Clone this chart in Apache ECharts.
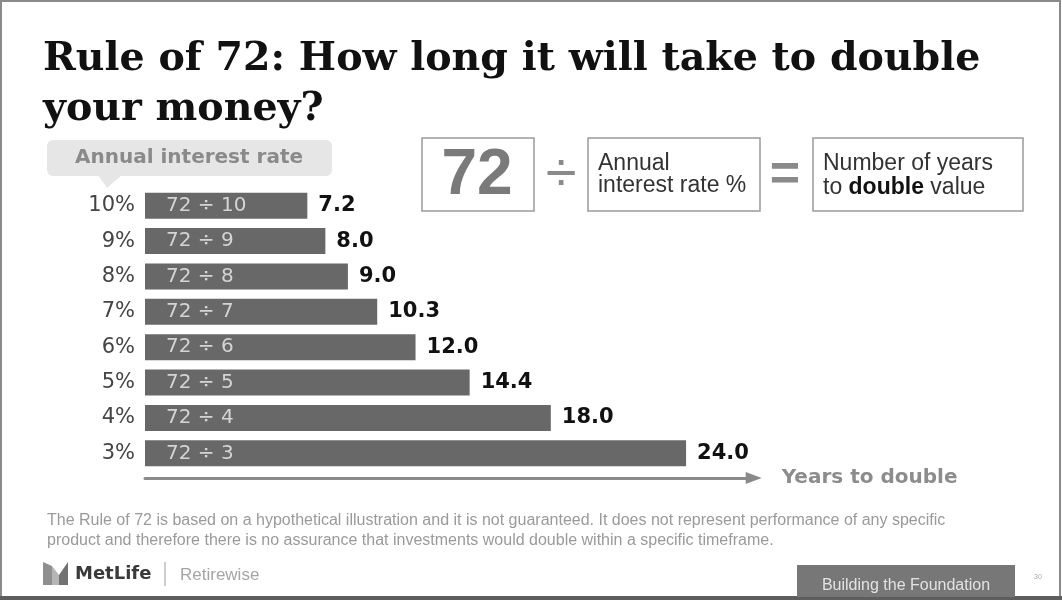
<!DOCTYPE html>
<html>
<head>
<meta charset="utf-8">
<script src="https://cdn.jsdelivr.net/npm/echarts@6/dist/echarts.min.js"></script>
<style>
  html, body { margin: 0; padding: 0; background: #fff; }
  #chart { width: 1062px; height: 600px; }
</style>
</head>
<body>
<div id="chart"></div>
<script>
// Interest rates (%) shown top to bottom, and years to double at each rate (72 / rate)
const rates = [10, 9, 8, 7, 6, 5, 4, 3];
const rateLabels = ['10%', '9%', '8%', '7%', '6%', '5%', '4%', '3%'];
const divisionLabels = ['72 ÷ 10', '72 ÷ 9', '72 ÷ 8', '72 ÷ 7', '72 ÷ 6', '72 ÷ 5', '72 ÷ 4', '72 ÷ 3'];
const yearsToDouble = [7.2, 8.0, 9.0, 10.3, 12.0, 14.4, 18.0, 24.0];

const titleText = 'Rule of 72: How long it will take to double\nyour money?';
const disclaimer = [
  'The Rule of 72 is based on a hypothetical illustration and it is not guaranteed. It does not represent performance of any specific',
  'product and therefore there is no assurance that investments would double within a specific timeframe.'
];

const SANS = 'DejaVu Sans';

// years axis: 0..27 across the plot, arrow at the far end
const X_MAX = 27;
const PX_PER_YEAR = 22.545;

const chart = echarts.init(document.getElementById('chart'), null, { renderer: 'canvas' });

const option = {
  animation: false,
  backgroundColor: '#ffffff',
  title: {
    text: titleText,
    left: 38,
    top: 30,
    textStyle: {
      fontFamily: 'DejaVu Serif',
      fontWeight: 'bold',
      fontSize: 39.5,
      lineHeight: 50,
      color: '#111111'
    }
  },
  grid: { left: 145, top: 188, width: X_MAX * PX_PER_YEAR, height: 283 },
  xAxis: {
    type: 'value',
    min: 0,
    max: X_MAX,
    offset: 7,
    splitLine: { show: false },
    axisTick: { show: false },
    axisLabel: { show: false },
    axisLine: {
      show: true,
      symbol: ['none', 'triangle'],
      symbolSize: [12, 16],
      lineStyle: { color: '#8a8a8a', width: 3, cap: 'round' }
    },
    name: 'Years to double',
    nameLocation: 'end',
    nameGap: 28,
    nameTextStyle: {
      fontFamily: SANS,
      fontWeight: 'bold',
      fontSize: 20,
      color: '#8c8c8c',
      verticalAlign: 'middle'
    }
  },
  yAxis: {
    type: 'category',
    data: rateLabels,
    inverse: true,
    axisLine: { show: false },
    axisTick: { show: false },
    axisLabel: {
      margin: 10,
      fontFamily: SANS,
      fontSize: 21,
      color: '#444444'
    }
  },
  series: [
    {
      type: 'bar',
      data: yearsToDouble,
      barWidth: 26,
      itemStyle: { color: '#686868' },
      label: {
        show: true,
        position: 'insideLeft',
        distance: 21,
        fontFamily: SANS,
        fontSize: 20,
        color: '#d4d4d4',
        formatter: p => divisionLabels[p.dataIndex]
      }
    },
    {
      type: 'bar',
      data: yearsToDouble,
      barWidth: 26,
      barGap: '-100%',
      itemStyle: { color: 'rgba(0,0,0,0)' },
      label: {
        show: true,
        position: 'right',
        distance: 11,
        fontFamily: SANS,
        fontWeight: 'bold',
        fontSize: 21,
        color: '#111111',
        formatter: p => p.value.toFixed(1)
      }
    }
  ],
  graphic: [
    // page frame
    { type: 'rect', shape: { x: 1, y: 1, width: 1059, height: 596 }, style: { fill: 'none', stroke: '#8a8a8a', lineWidth: 2 } },
    { type: 'rect', shape: { x: 0, y: 596, width: 1062, height: 4 }, style: { fill: '#5e5e5e' } },

    // "Annual interest rate" callout
    { type: 'rect', shape: { x: 47, y: 140, width: 285, height: 36, r: 6 }, style: { fill: '#e6e6e6' } },
    { type: 'polygon', shape: { points: [[98, 175], [122, 175], [107, 188]] }, style: { fill: '#e6e6e6' } },
    { type: 'text', x: 189, y: 158, style: { text: 'Annual interest rate', font: 'bold 20px "DejaVu Sans"', fill: '#8a8a8a', align: 'center', verticalAlign: 'middle' } },

    // formula: 72 ÷ rate = years
    { type: 'rect', shape: { x: 422, y: 138, width: 112, height: 73 }, style: { fill: '#fff', stroke: '#9a9a9a', lineWidth: 1.5 } },
    { type: 'text', x: 477, y: 176, style: { text: '72', font: 'bold 64px "Liberation Sans"', fill: '#7a7a7a', align: 'center', verticalAlign: 'middle' } },
    { type: 'text', x: 561, y: 176, style: { text: '÷', font: '56px "Liberation Sans"', fill: '#8a8a8a', align: 'center', verticalAlign: 'middle' } },
    { type: 'rect', shape: { x: 588, y: 138, width: 172, height: 73 }, style: { fill: '#fff', stroke: '#9a9a9a', lineWidth: 1.5 } },
    { type: 'text', x: 598, y: 164, style: { text: 'Annual', font: '23px "Liberation Sans"', fill: '#333', verticalAlign: 'middle' } },
    { type: 'text', x: 598, y: 186, style: { text: 'interest rate %', font: '23px "Liberation Sans"', fill: '#333', verticalAlign: 'middle' } },
    { type: 'text', x: 785, y: 176, style: { text: '=', font: 'bold 52px "Liberation Sans"', fill: '#8a8a8a', align: 'center', verticalAlign: 'middle' } },
    { type: 'rect', shape: { x: 813, y: 138, width: 210, height: 73 }, style: { fill: '#fff', stroke: '#9a9a9a', lineWidth: 1.5 } },
    { type: 'text', x: 823, y: 164, style: { text: 'Number of years', font: '23px "Liberation Sans"', fill: '#333', verticalAlign: 'middle' } },
    {
      type: 'text', x: 823, y: 188,
      style: {
        text: '{n|to }{b|double}{n| value}',
        verticalAlign: 'middle',
        rich: {
          n: { font: '23px "Liberation Sans"', fill: '#333' },
          b: { font: 'bold 23px "Liberation Sans"', fill: '#111' }
        }
      }
    },

    // disclaimer
    { type: 'text', x: 47, y: 521, style: { text: disclaimer[0], font: '16px "Liberation Sans"', fill: '#9a9a9a', verticalAlign: 'middle' } },
    { type: 'text', x: 47, y: 541, style: { text: disclaimer[1], font: '16px "Liberation Sans"', fill: '#9a9a9a', verticalAlign: 'middle' } },

    // footer: MetLife | Retirewise
    { type: 'polygon', shape: { points: [[43, 562], [52, 566], [52, 585], [43, 585]] }, style: { fill: '#8f8f8f' } },
    { type: 'polygon', shape: { points: [[52, 566], [59, 575], [59, 585], [52, 585]] }, style: { fill: '#b5b5b5' } },
    { type: 'polygon', shape: { points: [[59, 575], [68, 562], [68, 585], [59, 585]] }, style: { fill: '#727272' } },
    { type: 'text', x: 75, y: 574, style: { text: 'MetLife', font: 'bold 18px "DejaVu Sans"', fill: '#3a3a3a', verticalAlign: 'middle' } },
    { type: 'line', shape: { x1: 165, y1: 562, x2: 165, y2: 586 }, style: { stroke: '#bdbdbd', lineWidth: 1.5 } },
    { type: 'text', x: 180, y: 575, style: { text: 'Retirewise', font: '17px "Liberation Sans"', fill: '#a5a5a5', verticalAlign: 'middle' } },

    // footer: section tab and page number
    { type: 'rect', shape: { x: 797, y: 565, width: 218, height: 32 }, style: { fill: '#777777' } },
    { type: 'text', x: 906, y: 586, style: { text: 'Building the Foundation', font: '16px "Liberation Sans"', fill: '#e2e2e2', align: 'center', verticalAlign: 'middle' } },
    { type: 'text', x: 1038, y: 577, style: { text: '30', font: '7px "Liberation Sans"', fill: '#aaaaaa', align: 'center', verticalAlign: 'middle' } }
  ]
};

chart.setOption(option);
</script>
</body>
</html>
